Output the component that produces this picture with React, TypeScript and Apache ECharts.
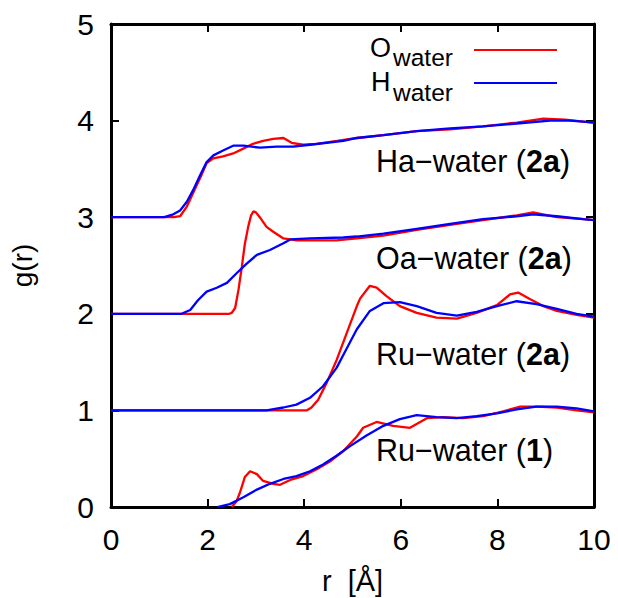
import React, { useEffect, useRef } from "react";
import * as echarts from "echarts";

// Axis ticks
const xTicks = [0, 2, 4, 6, 8, 10];
const yTicks = [0, 1, 2, 3, 4, 5];

// Panel labels and vertical offsets of each g(r) pair
const panelNames = ["Ha\u2212water (", "Oa\u2212water (", "Ru\u2212water (", "Ru\u2212water ("];
const panelCompounds = ["2a", "2a", "2a", "1"];
const panelOffsets = [3, 2, 1, 0];

// Ha–water (2a)
const haO_r = [0, 1.30, 1.43, 1.57, 1.70, 1.86, 1.98, 2.12, 2.32, 2.53, 2.74, 2.94, 3.15, 3.36, 3.57, 3.74, 3.98, 4.26, 4.68, 5.09, 5.64, 6.33, 7.02, 7.70, 8.40, 8.95, 9.40, 9.78, 10];
const haO_g = [0, 0, 0.01, 0.11, 0.25, 0.42, 0.56, 0.61, 0.63, 0.66, 0.71, 0.76, 0.79, 0.81, 0.82, 0.77, 0.75, 0.76, 0.79, 0.82, 0.85, 0.89, 0.91, 0.94, 0.98, 1.02, 1.01, 0.99, 0.98];
const haH_r = [0, 1.10, 1.29, 1.43, 1.57, 1.70, 1.84, 1.98, 2.12, 2.32, 2.53, 2.74, 3.08, 3.43, 3.77, 4.12, 4.81, 5.09, 5.64, 6.33, 7.02, 7.70, 8.40, 9.09, 9.50, 9.78, 10];
const haH_g = [0, 0, 0.03, 0.07, 0.16, 0.28, 0.43, 0.57, 0.64, 0.69, 0.74, 0.74, 0.72, 0.73, 0.73, 0.75, 0.79, 0.82, 0.85, 0.89, 0.92, 0.94, 0.97, 1.00, 1.00, 0.99, 0.98];

// Oa–water (2a)
const oaO_r = [0, 2.45, 2.50, 2.57, 2.64, 2.71, 2.77, 2.84, 2.90, 2.95, 3.00, 3.08, 3.22, 3.36, 3.57, 3.84, 4.26, 4.67, 5.09, 5.64, 6.33, 7.02, 7.70, 8.40, 8.74, 9.23, 9.78, 10];
const oaO_g = [0, 0, 0.01, 0.06, 0.25, 0.49, 0.72, 0.90, 1.02, 1.06, 1.05, 1.00, 0.90, 0.85, 0.78, 0.76, 0.76, 0.76, 0.78, 0.81, 0.87, 0.92, 0.97, 1.02, 1.05, 1.00, 0.98, 0.97];
const oaH_r = [0, 1.46, 1.64, 1.80, 1.98, 2.19, 2.40, 2.60, 2.81, 3.02, 3.29, 3.57, 3.71, 4.12, 4.81, 5.09, 5.64, 6.33, 7.02, 7.70, 8.40, 8.74, 9.23, 9.78, 10];
const oaH_g = [0, 0, 0.04, 0.14, 0.23, 0.27, 0.32, 0.42, 0.52, 0.61, 0.66, 0.73, 0.77, 0.78, 0.79, 0.80, 0.83, 0.88, 0.93, 0.98, 1.01, 1.03, 1.01, 0.98, 0.97];

// Ru–water (2a)
const ru2O_r = [0, 4.05, 4.15, 4.29, 4.47, 4.67, 4.88, 5.09, 5.16, 5.36, 5.50, 5.71, 5.98, 6.33, 6.74, 7.16, 7.57, 7.99, 8.26, 8.43, 8.68, 8.95, 9.23, 9.64, 10];
const ru2O_g = [0, 0, 0.03, 0.11, 0.29, 0.52, 0.80, 1.08, 1.16, 1.29, 1.27, 1.18, 1.08, 1.01, 0.96, 0.95, 1.01, 1.09, 1.20, 1.22, 1.15, 1.08, 1.03, 0.99, 0.96];
const ru2H_r = [0, 3.22, 3.57, 3.84, 4.12, 4.39, 4.67, 4.88, 5.09, 5.36, 5.64, 5.98, 6.33, 6.74, 7.16, 7.57, 7.99, 8.40, 8.81, 9.23, 9.64, 10];
const ru2H_g = [0, 0, 0.03, 0.06, 0.13, 0.25, 0.44, 0.64, 0.84, 1.03, 1.11, 1.12, 1.08, 1.01, 0.98, 1.02, 1.08, 1.13, 1.10, 1.05, 1.00, 0.97];

// Ru–water (1)
const ru1O_r = [2.50, 2.60, 2.67, 2.77, 2.88, 3.02, 3.15, 3.36, 3.50, 3.71, 3.98, 4.26, 4.53, 4.81, 5.09, 5.22, 5.50, 5.84, 6.19, 6.54, 6.88, 7.29, 7.71, 8.12, 8.47, 8.81, 9.23, 9.64, 10];
const ru1O_g = [0, 0.06, 0.15, 0.31, 0.37, 0.34, 0.27, 0.24, 0.23, 0.28, 0.32, 0.39, 0.47, 0.58, 0.73, 0.82, 0.88, 0.84, 0.82, 0.92, 0.93, 0.92, 0.94, 0.99, 1.04, 1.04, 1.03, 1.00, 0.98];
const ru1H_r = [2.20, 2.46, 2.74, 3.02, 3.29, 3.57, 3.84, 4.12, 4.39, 4.67, 4.95, 5.29, 5.64, 5.98, 6.33, 6.74, 7.16, 7.57, 7.99, 8.40, 8.81, 9.23, 9.64, 10];
const ru1H_g = [0, 0.03, 0.10, 0.18, 0.24, 0.29, 0.32, 0.37, 0.44, 0.53, 0.63, 0.74, 0.84, 0.91, 0.95, 0.93, 0.92, 0.94, 0.97, 1.01, 1.04, 1.04, 1.02, 0.99];

const oxygenR = [haO_r, oaO_r, ru2O_r, ru1O_r];
const oxygenG = [haO_g, oaO_g, ru2O_g, ru1O_g];
const hydrogenR = [haH_r, oaH_r, ru2H_r, ru1H_r];
const hydrogenG = [haH_g, oaH_g, ru2H_g, ru1H_g];

const FONT = "'Liberation Sans', Arial, Helvetica, sans-serif";
const RED = "#ff0000";
const BLUE = "#0000ff";

function pairs(rs: number[], gs: number[], off: number) {
  return rs.map((r, i) => [r, gs[i] + off]);
}

export default function App() {
  const ref = useRef<HTMLDivElement>(null);
  useEffect(() => {
    document.body.style.margin = "0";
    if (!ref.current) return;
    const chart = echarts.init(ref.current, null, { renderer: "svg" });

    const series: any[] = [];
    panelOffsets.forEach((off, k) => {
      series.push({
        name: "O_water " + panelNames[k] + panelCompounds[k] + ")",
        type: "line",
        data: pairs(oxygenR[k], oxygenG[k], off),
        showSymbol: false,
        symbol: "none",
        lineStyle: { color: RED, width: 2.3 },
        itemStyle: { color: RED },
        z: 3,
      });
    });
    panelOffsets.forEach((off, k) => {
      series.push({
        name: "H_water " + panelNames[k] + panelCompounds[k] + ")",
        type: "line",
        data: pairs(hydrogenR[k], hydrogenG[k], off),
        showSymbol: false,
        symbol: "none",
        lineStyle: { color: BLUE, width: 2.3 },
        itemStyle: { color: BLUE },
        z: 4,
      });
    });

    const axisLine = { show: true, onZero: false, lineStyle: { color: "#000", width: 3 } };
    const axisTick = { show: true, inside: true, length: 8, lineStyle: { color: "#000", width: 2 } };
    const labelY = [161, 257.5, 353.5, 450];

    const graphic: any[] = panelNames.map((nm, k) => ({
      type: "text",
      x: 376,
      y: labelY[k],
      style: {
        text: "{n|" + nm + "}{b|" + panelCompounds[k] + "}{n|)}",
        align: "left",
        verticalAlign: "middle",
        rich: {
          n: { fontSize: 30.5, fontFamily: FONT, fill: "#000" },
          b: { fontSize: 30.5, fontFamily: FONT, fontWeight: "bold", fill: "#000" },
        },
      },
      z: 10,
    }));
    // legend
    graphic.push(
      { type: "text", x: 370, y: 48.3, style: { text: "O", fontSize: 27, fontFamily: FONT, fill: "#000", align: "left", verticalAlign: "middle" }, z: 10 },
      { type: "text", x: 393, y: 57.7, style: { text: "water", fontSize: 24.5, fontFamily: FONT, fill: "#000", align: "left", verticalAlign: "middle" }, z: 10 },
      { type: "text", x: 371, y: 81.6, style: { text: "H", fontSize: 27, fontFamily: FONT, fill: "#000", align: "left", verticalAlign: "middle" }, z: 10 },
      { type: "text", x: 393, y: 92, style: { text: "water", fontSize: 24.5, fontFamily: FONT, fill: "#000", align: "left", verticalAlign: "middle" }, z: 10 },
      { type: "line", shape: { x1: 474, y1: 50, x2: 557, y2: 50 }, style: { stroke: RED, lineWidth: 2 }, z: 10 },
      { type: "line", shape: { x1: 474, y1: 83, x2: 557, y2: 83 }, style: { stroke: BLUE, lineWidth: 2 }, z: 10 }
    );

    chart.setOption({
      animation: false,
      backgroundColor: "#fff",
      grid: { left: 111, right: 24, top: 24, bottom: 91, containLabel: false, outerBoundsMode: "none" },
      xAxis: [
        {
          type: "value",
          position: "bottom",
          min: xTicks[0],
          max: xTicks[xTicks.length - 1],
          interval: 2,
          name: "r  [\u00c5]",
          nameLocation: "middle",
          nameGap: 59,
          nameMoveOverlap: false,
          nameTextStyle: { fontSize: 29, fontFamily: FONT, color: "#000" },
          axisLine,
          axisTick,
          axisLabel: { fontSize: 30, fontFamily: FONT, color: "#000", margin: 17 },
          splitLine: { show: false },
        },
        {
          type: "value",
          position: "top",
          min: xTicks[0],
          max: xTicks[xTicks.length - 1],
          interval: 2,
          axisLine,
          axisTick,
          axisLabel: { show: false },
          splitLine: { show: false },
        },
      ],
      yAxis: [
        {
          type: "value",
          position: "left",
          min: yTicks[0],
          max: yTicks[yTicks.length - 1],
          interval: 1,
          name: "g(r)",
          nameLocation: "middle",
          nameGap: 75,
          nameMoveOverlap: false,
          nameTextStyle: { fontSize: 28, fontFamily: FONT, color: "#000" },
          axisLine,
          axisTick,
          axisLabel: { fontSize: 30, fontFamily: FONT, color: "#000", margin: 17 },
          splitLine: { show: false },
        },
        {
          type: "value",
          position: "right",
          min: yTicks[0],
          max: yTicks[yTicks.length - 1],
          interval: 1,
          axisLine,
          axisTick,
          axisLabel: { show: false },
          splitLine: { show: false },
        },
      ],
      series,
      graphic,
    });
    return () => chart.dispose();
  }, []);
  return <div ref={ref} style={{ width: 618, height: 598 }} />;
}
